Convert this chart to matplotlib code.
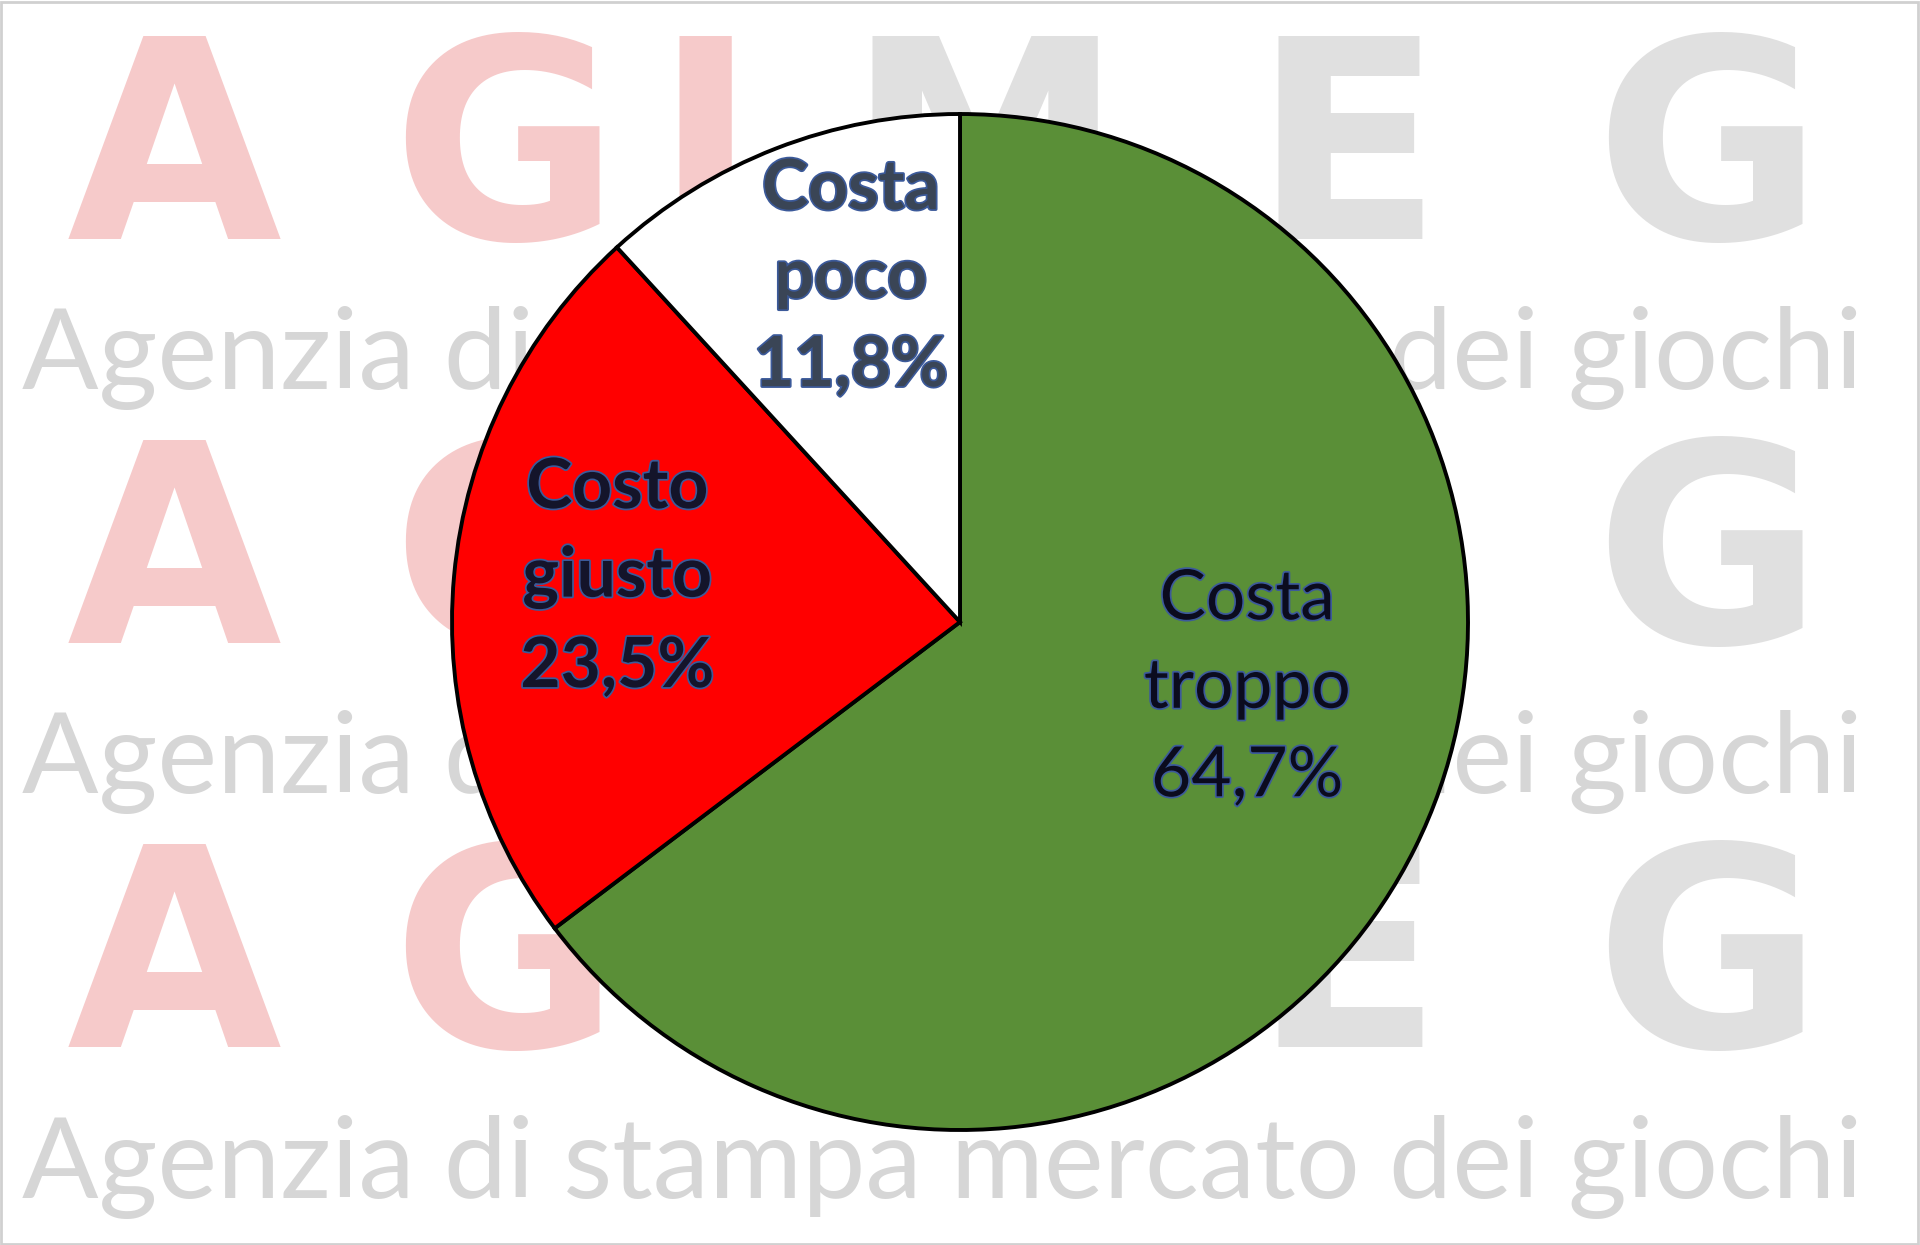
import matplotlib.pyplot as plt
import matplotlib.patheffects as pe
import numpy as np

# data
labels = ['Costa\ntroppo', 'Costo\ngiusto', 'Costa\npoco']
values = [64.7, 23.5, 11.8]
colors = ['#5A8F37', '#FF0000', '#FFFFFF']
text_colors = ['#0B0B1E', '#14142A', '#3A4556']
weights = ['normal', 'bold', 'bold']

W, H = 1920, 1245
fig = plt.figure(figsize=(W / 100, H / 100), dpi=100)
ax = fig.add_axes([0, 0, 1, 1])
ax.set_xlim(0, W)
ax.set_ylim(0, H)

# watermark (background logo, repeated 3 times)
logo_letters = ['A', 'G', 'I', 'M', 'E', 'G']
logo_x = [174, 505, 705, 985, 1347, 1708]
logo_col = ['#F6CACA', '#F6CACA', '#F6CACA', '#E0E0E0', '#E0E0E0', '#E0E0E0']
for yb in [239, 643, 1047]:
    for ch, lx, lc in zip(logo_letters, logo_x, logo_col):
        ax.text(lx, H - yb, ch, fontsize=200, color=lc, family='DejaVu Sans',
                weight='bold', ha='center', va='baseline', zorder=0)

tag = 'Agenzia di stampa mercato dei giochi'
fig.canvas.draw()
rend = fig.canvas.get_renderer()
probe = ax.text(0, 0, tag, fontsize=100, family='Lato')
tw = probe.get_window_extent(rend).width
probe.remove()
tag_size = 100 * 1840 / tw
for yb in [389, 793, 1198]:
    ax.text(W / 2 - 18, H - yb, tag, fontsize=tag_size, color='#D6D6D6',
            family='Lato', ha='center', va='baseline', zorder=0)

# pie
cx, cy, r = 960, H - 622, 508
wedges, _ = ax.pie(values, colors=colors, startangle=90, counterclock=False,
                   center=(cx, cy), radius=r,
                   wedgeprops=dict(edgecolor='black', linewidth=2.8, zorder=2))

# label placement: angle (deg) and distance (fraction of radius)
lab_ang = [-13, 172.7, 107.6]
lab_dist = [0.58, 0.68, 0.71]
for lab, v, tc, w, a, d in zip(labels, values, text_colors, weights, lab_ang, lab_dist):
    t = np.deg2rad(a)
    txt = lab + '\n' + ('%.1f%%' % v).replace('.', ',')
    ax.text(cx + d * r * np.cos(t), cy + d * r * np.sin(t), txt,
            ha='center', va='center', fontsize=50, family='Lato', weight=w,
            color=tc, linespacing=1.5, zorder=3,
            path_effects=[pe.withStroke(linewidth=2.5, foreground='#3C5A9A')])

ax.set_xlim(0, W)
ax.set_ylim(0, H)
ax.set_aspect('auto')
ax.axis('off')

# thin grey border round the picture
ax.add_patch(plt.Rectangle((1, 1), W - 3, H - 3, fill=False, edgecolor='#D0D0D0',
                           linewidth=2, zorder=5))

fig.savefig('out.png', dpi=100)
